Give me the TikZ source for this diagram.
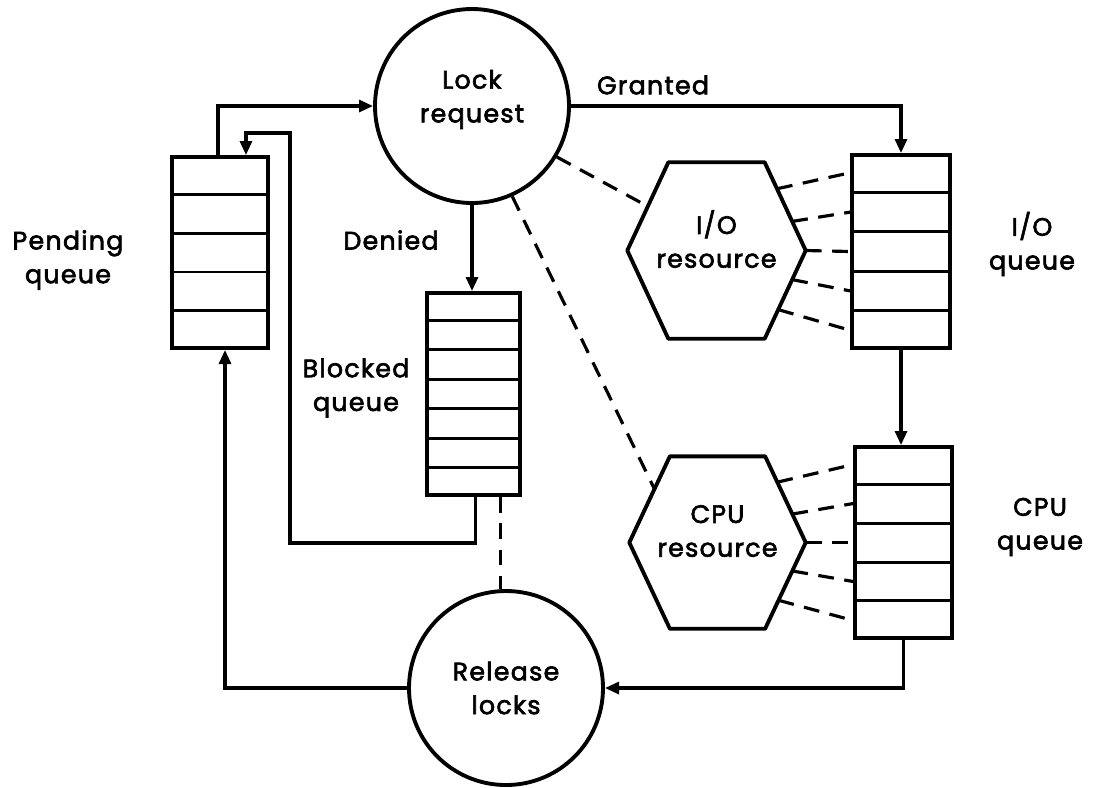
\documentclass[tikz,border=0pt]{standalone}
\usepackage{fontspec}
\setmainfont{Poppins}[LetterSpace=5, FakeBold=2.5]
\usepackage{tikz}
\usetikzlibrary{arrows.meta, calc, positioning}
\newcommand{\diagfont}{\fontsize{7.2}{9.6}\selectfont}
\tikzset{
  queuebox/.style={
    draw, line width=1.1pt, inner sep=0pt, fill=white
  },
  divline/.style={line width=0.85pt},
  stepcircle/.style={
    draw, circle, line width=1.1pt, inner sep=0pt,
    minimum size=1.94cm, align=center, font=\diagfont
  },
  hexnode/.style={
    inner sep=0pt, align=center, font=\diagfont
  },
  hexline/.style={line width=1.1pt, line join=round},
  flowarrow/.style={
    -{Triangle[length=4pt,width=3.4pt]}, line width=0.9pt
  },
  linkdash/.style={dash pattern=on 4.5pt off 3pt, line width=0.9pt},
  qlabel/.style={align=center, font=\diagfont, inner sep=0pt},
}

\begin{document}
\begin{tikzpicture}[x=1cm, y=-1cm]
  \useasboundingbox (0,0) rectangle (11.06,7.87);

  % Queues
  \node[queuebox, minimum width=0.96cm, minimum height=1.91cm] (pendq) at (2.20,2.525) {};
  \node[queuebox, minimum width=0.93cm, minimum height=2.02cm] (blockq) at (4.735,3.94) {};
  \node[queuebox, minimum width=0.98cm, minimum height=1.93cm] (ioq) at (9.01,2.515) {};
  \node[queuebox, minimum width=0.97cm, minimum height=1.91cm] (cpuq) at (9.035,5.425) {};
  \foreach \q/\n in {pendq/5, blockq/7, ioq/5, cpuq/5} {
    \pgfmathtruncatemacro{\m}{\n-1}
    \foreach \k in {1,...,\m}
      \draw[divline] ($(\q.north west)!{\k/\n}!(\q.south west)$)
        -- ($(\q.north east)!{\k/\n}!(\q.south east)$);
  }

  % Lock request and release
  \node[stepcircle] (lockreq) at (4.72,1.06) {Lock\\request\\[-4pt]\mbox{}};
  \node[stepcircle] (relock) at (5.06,6.88) {Release\\locks};

  % Resources
  \node[hexnode, minimum width=1.77cm, minimum height=1.75cm] (iores) at (7.165,2.505) {I/O\\resource\\[-3pt]\mbox{}};
  \node[hexnode, minimum width=1.75cm, minimum height=1.71cm] (cpures) at (7.175,5.425) {CPU\\resource\\[-3pt]\mbox{}};
  \foreach \h in {iores, cpures}
    \draw[hexline] (\h.west) coordinate (\h-w)
      -- ($(\h.north west)!.23!(\h.north east)$) coordinate (\h-nw)
      -- ($(\h.north west)!.77!(\h.north east)$) coordinate (\h-ne)
      -- (\h.east) coordinate (\h-e)
      -- ($(\h.south west)!.77!(\h.south east)$) coordinate (\h-se)
      -- ($(\h.south west)!.23!(\h.south east)$) coordinate (\h-sw)
      -- cycle;

  % Labels
  \node[qlabel] (pendlbl) at (0.68,2.60) {Pending\\queue};
  \node[qlabel] (blocklbl) at (3.56,3.88) {Blocked\\queue};
  \node[qlabel] (ioqlbl) at (10.32,2.44) {I/O\\queue};
  \node[qlabel] (cpuqlbl) at (10.40,5.27) {CPU\\queue};
  \node[qlabel] (deniedlbl) at (3.91,2.40) {Denied};
  \node[qlabel] (grantedlbl) at (6.53,0.85) {Granted};

  % Flow
  \coordinate (pendout) at ($(pendq.north west)!.48!(pendq.north east)$);
  \coordinate (pendin) at ($(pendq.north west)!.76!(pendq.north east)$);
  \coordinate (pendbot) at ($(pendq.south west)!.55!(pendq.south east)$);
  \coordinate (blockout) at ($(blockq.south west)!.52!(blockq.south east)$);
  \coordinate (blockdash) at ($(blockq.south west)!.78!(blockq.south east)$);
  \coordinate (loopbot) at (2.90,5.43);
  \coordinate (looptop) at (2.90,1.33);

  \draw[flowarrow] (pendout) |- (lockreq);
  \draw[flowarrow] (lockreq.east) -| (ioq.north);
  \draw[flowarrow] (lockreq.south) -- (lockreq.south |- blockq.north);
  \draw[flowarrow] (ioq.south) -- (ioq.south |- cpuq.north);
  \draw[flowarrow] (cpuq.south) |- (relock.east);
  \draw[flowarrow] (relock.west) -| (pendbot);
  \draw[flowarrow] (blockout) |- (loopbot) -- (looptop) -| (pendin);

  % Dashed links
  \draw[linkdash] (lockreq.-31) -- ($(iores-w)!.5!(iores-nw)$);
  \draw[linkdash] (lockreq.-66) -- ($(cpures-w)!.62!(cpures-nw)$);
  \draw[linkdash] (blockdash) -- (blockdash |- relock.north);
  \foreach \h/\q in {iores/ioq, cpures/cpuq} {
    \draw[linkdash] ($(\h-ne)!.3!(\h-e)$) -- ($(\q.north west)!.1!(\q.south west)$);
    \draw[linkdash] ($(\h-ne)!.67!(\h-e)$) -- ($(\q.north west)!.3!(\q.south west)$);
    \draw[linkdash] (\h-e) -- (\q.west);
    \draw[linkdash] ($(\h-e)!.33!(\h-se)$) -- ($(\q.north west)!.7!(\q.south west)$);
    \draw[linkdash] ($(\h-e)!.67!(\h-se)$) -- ($(\q.north west)!.9!(\q.south west)$);
  }
\end{tikzpicture}
\end{document}
